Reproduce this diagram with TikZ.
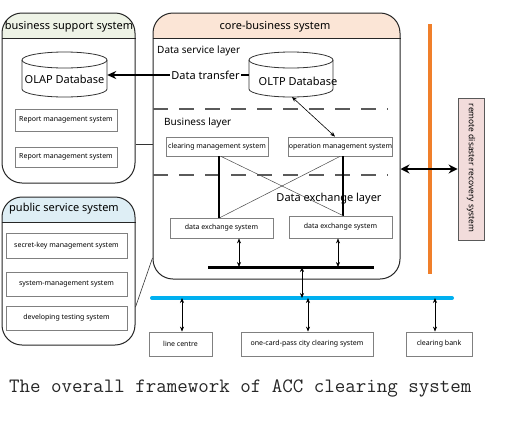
\documentclass[tikz,border=0pt]{standalone}
\usepackage{fontspec}
\setmainfont{Noto Sans}
\usetikzlibrary{arrows.meta}
\definecolor{peach}{HTML}{FBE5D6}
\definecolor{palegreen}{HTML}{EEF3E6}
\definecolor{paleblue}{HTML}{DEEEF5}
\definecolor{pinkbox}{HTML}{F2DCDB}
\definecolor{orangeline}{HTML}{F07F2A}
\definecolor{cyanline}{HTML}{00B0F0}
\definecolor{boxgray}{HTML}{808080}
\definecolor{dashgray}{HTML}{5A5A5A}
\tikzset{
  groupbox/.style={draw=black!85, line width=1pt, rounded corners=20pt, inner sep=0pt},
  smallbox/.style={draw=boxgray, line width=0.8pt, inner sep=0pt, font=\fontsize{7}{8}\selectfont},
  headtext/.style={font=\fontsize{11}{13}\selectfont, inner sep=0pt},
  layertext/.style={font=\fontsize{10}{12}\selectfont, inner sep=0pt, anchor=west},
  layerdash/.style={draw=dashgray, line width=2.6pt, dash pattern=on 15pt off 11pt},
  thinarrow/.style={draw=black, line width=0.6pt, {Stealth[length=5pt,width=4pt]}-{Stealth[length=5pt,width=4pt]}},
  thickarrow/.style={draw=black, line width=2.2pt, {Stealth[length=9pt,width=9pt]}-{Stealth[length=9pt,width=9pt]}},
  busline/.style={line width=3pt},
  cyl/.style={draw=black!80, line width=0.8pt}
}
\begin{document}
\begin{tikzpicture}[x=1pt,y=-1pt]
\useasboundingbox (0,0) rectangle (512,429);
\fill[white] (0,0) rectangle (512,429);

% ---------- business support system ----------
\begin{scope}
\clip[rounded corners=20pt] (2,13) rectangle (135,183);
\fill[palegreen] (2,13) rectangle (135,38);
\end{scope}
\node[groupbox, minimum width=133pt, minimum height=170pt] (bss) at (68.5,98) {};
\draw[black!85, line width=1pt] (bss.west |- 0,38) -- (bss.east |- 0,38);
\node[headtext] (bsst) at (69,27) {business support system};

% OLAP cylinder
\draw[cyl, fill=white] (22,60) -- (22,89) arc[start angle=180, end angle=0, x radius=42.5, y radius=8] -- (107,60);
\draw[cyl] (64.5,60) ellipse [x radius=42.5, y radius=8];
\node[inner sep=0pt, minimum width=85pt, minimum height=45pt] (olap) at (64.5,76) {};
\node[font=\fontsize{11}{13}\selectfont, inner sep=0pt] (olapt) at (64.5,79) {OLAP Database};

\node[smallbox, minimum width=102pt, minimum height=22pt] (rep1) at (66,120) {Report management system};
\node[smallbox, minimum width=102pt, minimum height=20pt] (rep2) at (66,157) {Report management system};

% ---------- public service system ----------
\begin{scope}
\clip[rounded corners=20pt] (2,197) rectangle (135,345);
\fill[paleblue] (2,197) rectangle (135,222);
\end{scope}
\node[groupbox, minimum width=133pt, minimum height=148pt] (pss) at (68.5,271) {};
\draw[black!85, line width=1pt] (pss.west |- 0,222) -- (pss.east |- 0,222);
\node[headtext] (psst) at (64,209) {public service system};

\node[smallbox, minimum width=121pt, minimum height=25pt] (skm) at (66.5,245.5) {secret-key management system};
\node[smallbox, minimum width=121pt, minimum height=24pt] (smm) at (66.5,284) {system-management system};
\node[smallbox, minimum width=121pt, minimum height=24pt] (dts) at (66.5,318) {developing testing system};

% ---------- core-business system ----------
\begin{scope}
\clip[rounded corners=20pt] (153,13) rectangle (400,279);
\fill[peach] (153,13) rectangle (400,38);
\end{scope}
\node[groupbox, minimum width=247pt, minimum height=266pt] (core) at (276.5,146) {};
\draw[black!85, line width=1pt] (core.west |- 0,38) -- (core.east |- 0,38);
\node[headtext] (coret) at (275,27) {core-business system};

\node[layertext] (dsl) at (157,51) {Data service layer};
\node[layertext] (bl) at (164,123) {Business layer};
\node[font=\fontsize{11}{13}\selectfont, inner sep=0pt] (del) at (329,199) {Data exchange layer};

% dashed separators
\coordinate (d1l) at (153,109); \coordinate (d1r) at (388,109);
\coordinate (d2l) at (153,175); \coordinate (d2r) at (388,175);
\draw[layerdash] (d1l) -- (d1r);
\draw[layerdash] (d2l) -- (d2r);

% OLTP cylinder
\draw[cyl, fill=white] (249,60) -- (249,89) arc[start angle=180, end angle=0, x radius=42, y radius=8] -- (333,60);
\draw[cyl] (291,60) ellipse [x radius=42, y radius=8];
\node[inner sep=0pt, minimum width=84pt, minimum height=45pt] (oltp) at (291,76) {};
\node[font=\fontsize{11}{13}\selectfont, inner sep=0pt] (oltpt) at (298,81) {OLTP Database};

% Data transfer
\node[font=\fontsize{11}{13}\selectfont, inner sep=1.5pt] (dt) at (205.5,75) {Data transfer};
\draw[line width=2pt, -{Stealth[length=9pt,width=8pt]}] (dt.west) -- (olap.east |- dt.west);
\draw[line width=2pt] (dt.east) -- (oltp.west |- dt.east);

% business layer boxes
\node[smallbox, minimum width=102pt, minimum height=19pt] (cms) at (217,146.5) {clearing management system};
\node[smallbox, minimum width=103pt, minimum height=19pt] (oms) at (340.5,146.5) {operation management system};

\draw[thinarrow] (292,97) -- (oms.north -| 335,0);

% data exchange boxes
\node[smallbox, minimum width=103pt, minimum height=20pt] (dx1) at (221.5,228) {data exchange system};
\node[smallbox, minimum width=103pt, minimum height=22pt] (dx2) at (340.5,227) {data exchange system};

\draw[line width=1.3pt] (cms.south -| 219,0) -- (dx1.north -| 219,0);
\draw[line width=1.3pt] (oms.south -| 343,0) -- (dx2.north -| 343,0);
\draw[line width=0.5pt, black!70] (cms.south -| 221,0) -- (dx2.north -| 343,0);
\draw[line width=0.5pt, black!70] (oms.south -| 340,0) -- (dx1.north -| 220,0);

% internal bus
\coordinate (busL) at (208,267); \coordinate (busR) at (374,267);
\draw[busline] (busL) -- (busR);
\draw[thinarrow] (dx1.south -| 239,0) -- (busL -| 239,0);
\draw[thinarrow] (dx2.south -| 338,0) -- (busL -| 338,0);

% external blue bus
\coordinate (cbL) at (152,298); \coordinate (cbR) at (452,298);
\draw[cyanline, line width=4pt, line cap=round] (cbL) -- (cbR);
\draw[thinarrow] (busL -| 302,0) -- (cbL -| 302,0);

% bottom boxes
\node[smallbox, minimum width=63pt, minimum height=24pt] (lc) at (180.5,344) {line centre};
\node[smallbox, minimum width=132pt, minimum height=24pt] (oc) at (307,344) {one-card-pass city clearing system};
\node[smallbox, minimum width=66pt, minimum height=24pt] (cb) at (439,344) {clearing bank};
\draw[thinarrow] (cbL -| 182,0) -- (lc.north -| 182,0);
\draw[thinarrow] (cbL -| 308,0) -- (oc.north -| 308,0);
\draw[thinarrow] (cbL -| 435,0) -- (cb.north -| 435,0);

% orange line and remote system
\coordinate (orT) at (430,24); \coordinate (orB) at (430,274);
\draw[orangeline, line width=4pt] (orT) -- (orB);
\node[draw=black!65, fill=pinkbox, line width=0.8pt, minimum width=26pt, minimum height=142pt, inner sep=0pt] (rds) at (471,169) {};
\node[rotate=-90, font=\fontsize{8.4}{10}\selectfont, inner sep=0pt] (rdst) at (471,168) {remote disaster recovery system};
\draw[thickarrow] (core.east |- 0,169) -- (rds.west |- 0,169);

% group connections
\draw[black!80, line width=0.6pt] (bss.east |- 0,144) -- (core.west |- 0,144);
\draw[black!80, line width=0.6pt] (pss.east |- 0,307) -- (core.west |- 0,258);

% caption
\node[font=\ttfamily\fontsize{20.4}{23}\selectfont, text=black!85, anchor=west, inner sep=0pt] (cap) at (9,388) {The overall framework of ACC clearing system};
\end{tikzpicture}
\end{document}
